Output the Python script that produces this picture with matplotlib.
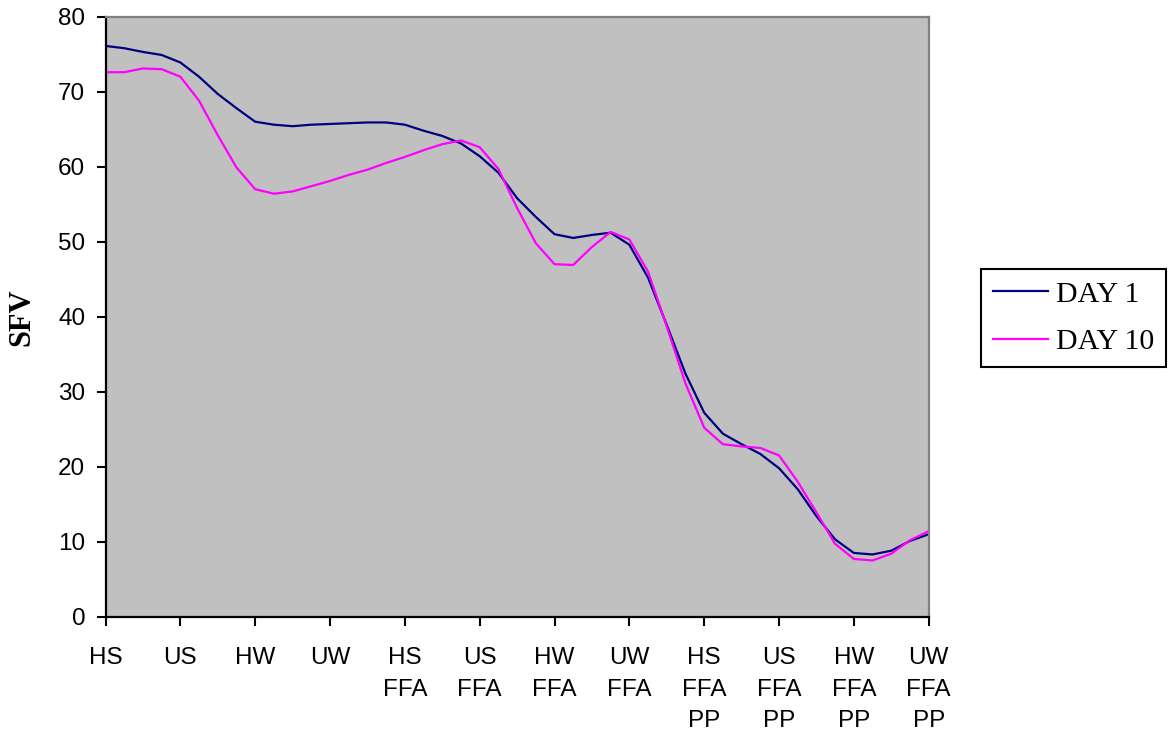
import matplotlib.pyplot as plt

# x categories (labels sit on every 4th sample)
categories = ["HS", "US", "HW", "UW",
              "HS\nFFA", "US\nFFA", "HW\nFFA", "UW\nFFA",
              "HS\nFFA\nPP", "US\nFFA\nPP", "HW\nFFA\nPP", "UW\nFFA\nPP"]
steps_per_category = 4

day1 = [76.1, 75.8, 75.3, 74.9, 73.9, 72.0, 69.7, 67.8, 66.0, 65.6,
        65.4, 65.6, 65.7, 65.8, 65.9, 65.9, 65.6, 64.8, 64.1, 63.1,
        61.4, 59.2, 55.8, 53.3, 51.0, 50.5, 50.9, 51.2, 49.6, 45.2,
        38.9, 32.4, 27.2, 24.4, 23.0, 21.7, 19.8, 17.0, 13.4, 10.3,
        8.5, 8.3, 8.8, 10.1, 11.0]
day10 = [72.6, 72.6, 73.1, 73.0, 72.0, 68.8, 64.2, 59.9, 57.0, 56.4,
         56.7, 57.4, 58.1, 58.9, 59.6, 60.5, 61.3, 62.2, 63.0, 63.5,
         62.6, 59.7, 54.5, 49.8, 47.0, 46.9, 49.3, 51.3, 50.3, 46.0,
         38.7, 31.1, 25.2, 23.0, 22.7, 22.5, 21.5, 18.0, 13.9, 9.7,
         7.7, 7.5, 8.4, 10.2, 11.4]

series_names = ["DAY 1", "DAY 10"]
series_colors = ["#000080", "#FF00FF"]

W, H = 1169, 738
fig = plt.figure(figsize=(W / 100, H / 100), dpi=100)
ax = fig.add_axes([105.5 / W, 1 - 616.7 / H, (928.7 - 105.5) / W, (616.7 - 16.7) / H])
ax.set_facecolor("#C0C0C0")

xs = list(range(len(day1)))
for vals, name, col in zip([day1, day10], series_names, series_colors):
    ax.plot(xs, vals, color=col, lw=1.6, label=name, solid_joinstyle="round")

ax.set_xlim(0, len(day1) - 1)
ax.set_ylim(0, 80)
ax.set_yticks(range(0, 81, 10))
ax.set_xticks(range(0, len(day1), steps_per_category))
ax.set_xticklabels(categories, family="Liberation Sans", fontsize=17.5,
                   va="top", linespacing=1.55)
for lbl in ax.get_yticklabels():
    lbl.set_family("Liberation Sans")
    lbl.set_fontsize(17.5)

ax.tick_params(axis="x", direction="out", length=6.5, width=1.5, pad=15.5)
ax.tick_params(axis="y", direction="out", length=6.5, width=1.5, pad=8)
for side in ("left", "bottom"):
    ax.spines[side].set_color("black")
    ax.spines[side].set_linewidth(1.6)
for side in ("top", "right"):
    ax.spines[side].set_color("#808080")
    ax.spines[side].set_linewidth(1.6)

fig.text(21.5 / W, 1 - 316.7 / H, "SFV", rotation=90, ha="center", va="center",
         family="Liberation Serif", fontweight="bold", fontsize=22)

leg = fig.legend(loc="upper left", bbox_to_anchor=(980.7 / W, 1 - 269 / H),
                 prop={"family": "Liberation Serif", "size": 21.5},
                 fancybox=False, shadow=False, framealpha=1,
                 handlelength=1.87, handletextpad=0.25, borderpad=0.4,
                 labelspacing=0.68, borderaxespad=0)
leg.get_frame().set_edgecolor("black")
leg.get_frame().set_linewidth(1.5)

fig.savefig("out.png", dpi=100)
